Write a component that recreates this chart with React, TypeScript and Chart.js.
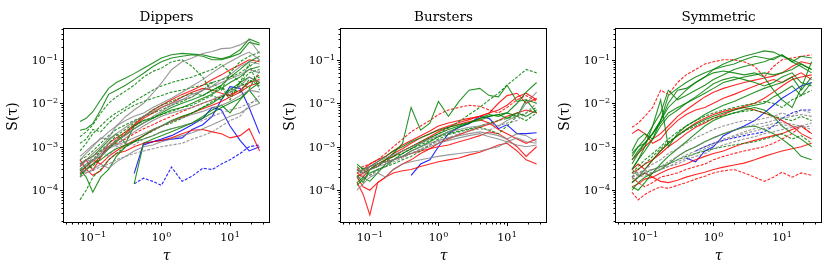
import React, { useEffect, useRef } from "react";
import { Chart, registerables } from "chart.js";
Chart.register(...registerables);

// ---------- shared axes data ----------
const TAU = [0.065, 0.08, 0.1, 0.13, 0.17, 0.22, 0.3, 0.4, 0.55, 0.75, 1.0, 1.4, 2.0, 2.8, 4.0, 5.5, 7.5, 10, 14, 19, 27];
const X_MIN = 0.038;
const X_MAX = 37;
const Y_MIN = 1.86e-5;
const Y_MAX = 0.51;
const X_MAJOR_EXP = [-1, 0, 1];
const Y_MAJOR_EXP = [-4, -3, -2, -1];
const TITLES = ["Dippers", "Bursters", "Symmetric"];
const X_LABEL = "τ";
const Y_LABEL = "S(τ)";

const N = null;

// ---------- Dippers ----------
const D_G1 = [3.8e-3, 4.5e-3, 6.4e-3, 1.2e-2, 2.2e-2, 3e-2, 3.8e-2, 4.8e-2, 6.4e-2, 8.4e-2, 0.11, 0.13, 0.14, 0.135, 0.13, 0.115, 0.105, 0.12, 0.17, 0.3, 0.24];
const D_G2 = [2.4e-3, 2.6e-3, 3.4e-3, 7e-3, 1.6e-2, 2e-2, 2.6e-2, 3.5e-2, 4.9e-2, 7e-2, 9e-2, 0.11, 0.12, 0.13, 0.12, 0.1, 0.1, 0.115, 0.14, 0.25, 0.22];
const D_G3 = [1.7e-3, 2.2e-3, 3.2e-3, 5.9e-3, 1e-2, 1.4e-2, 1.9e-2, 2.6e-2, 4e-2, 5.4e-2, 6.4e-2, 9e-2, 0.1, 7e-2, 4e-2, 1.7e-2, 2.4e-2, 1.2e-2, 3e-2, 2.2e-2, 5.4e-2];
const D_GY1 = [4e-4, 5e-4, 7e-4, 1e-3, 1.6e-3, 3e-3, 4.9e-3, 7e-3, 1e-2, 1.7e-2, 2.9e-2, 5.9e-2, 9e-2, 0.11, 0.14, 0.155, 0.18, 0.185, 0.22, 0.29, 0.14];
const D_GY2 = [3e-4, 4e-4, 5e-4, 7e-4, 1e-3, 1.4e-3, 1.8e-3, 2.6e-3, 3.5e-3, 5e-3, 6.5e-3, 9e-3, 1.2e-2, 1.6e-2, 2e-2, 2.4e-2, 3e-2, 3.6e-2, 4.5e-2, 6e-2, 5e-2];
const D_GY3 = [2.5e-4, 3e-4, 5e-4, 6e-4, 9e-4, 1.1e-3, 1.3e-3, 1.6e-3, 2e-3, 2.5e-3, 3e-3, 3.8e-3, 4.6e-3, 5.5e-3, 6.5e-3, 8e-3, 9e-3, 1.1e-2, 1.5e-2, 2e-2, 1.8e-2];
const D_GY4 = [4e-4, 3.5e-4, 6e-4, 8e-4, 6e-4, 1e-3, 1.2e-3, 1.1e-3, 1.5e-3, 1.8e-3, 2.2e-3, 2.6e-3, 3e-3, 3.5e-3, 4e-3, 5e-3, 6e-3, 7e-3, 8e-3, 1e-2, 1.2e-2];
const D_GY5 = [5e-4, 7e-4, 1e-3, 1.6e-3, 1.5e-3, 2e-3, 2.8e-3, 3.8e-3, 5e-3, 6.5e-3, 8e-3, 1e-2, 1.2e-2, 1.4e-2, 2e-2, 2.5e-2, 3.5e-2, 4.5e-2, 7e-2, 9e-2, 8e-2];
const D_GY6 = [2e-4, 2.5e-4, 3e-4, 4e-4, 3.2e-4, 4.5e-4, 6e-4, 8e-4, 1e-3, 1.1e-3, 1.3e-3, 1.5e-3, 1.8e-3, 2.1e-3, 2.6e-3, 3.2e-3, 4e-3, 5e-3, 6e-3, 8e-3, 1e-2];
const D_GY7 = [3e-4, 2.6e-4, 2.8e-4, 3.5e-4, 4e-4, 5e-4, 6e-4, 7e-4, 8e-4, 9e-4, 1e-3, 1.1e-3, 1.2e-3, 1.5e-3, 1.8e-3, 2.2e-3, 3e-3, 4e-3, 5e-3, 9e-3, 1.5e-2];
const D_GY8 = [6e-4, 8e-4, 1.1e-3, 1.5e-3, 2.2e-3, 3e-3, 4e-3, 5e-3, 6e-3, 8e-3, 1e-2, 1.3e-2, 1.8e-2, 2.5e-2, 3.5e-2, 5e-2, 7e-2, 9e-2, 0.12, 0.15, 0.1];
const D_GY9 = [3.5e-4, 5e-4, 4.5e-4, 7e-4, 1.2e-3, 1.1e-3, 1.6e-3, 2.2e-3, 3e-3, 4e-3, 5e-3, 6e-3, 7e-3, 8e-3, 1e-2, 1.2e-2, 1.5e-2, 1.8e-2, 2.5e-2, 4e-2, 3e-2];
const D_GD4 = [1.2e-3, 1.5e-3, 2.5e-3, 2.2e-3, 3.5e-3, 5e-3, 7e-3, 9e-3, 1.1e-2, 1.3e-2, 1.5e-2, 1.8e-2, 2e-2, 2.3e-2, 2.6e-2, 3e-2, 3.5e-2, 4e-2, 5e-2, 7e-2, 0.1];
const D_GD5 = [6e-5, 1e-4, 2e-4, 3e-4, 5e-4, 7e-4, 1e-3, 1.3e-3, 1.8e-3, 2.3e-3, 3e-3, 3.5e-3, 4.5e-3, 6e-3, 8e-3, 1.1e-2, 1.4e-2, 1.8e-2, 2.5e-2, 3e-2, 4e-2];
const D_GS6 = [3e-4, 2e-4, 9e-5, 2e-4, 3e-4, 6e-4, 1e-3, 1.3e-3, 1.8e-3, 2.5e-3, 3e-3, 4e-3, 5e-3, 6e-3, 8e-3, 1e-2, 1.4e-2, 2e-2, 3e-2, 4e-2, 3e-2];
const D_GS7 = [N, N, N, N, N, N, N, 1.4e-4, 1.2e-3, 1.5e-3, 1.8e-3, 2.2e-3, 2.8e-3, 3.5e-3, 5e-3, 7e-3, 9e-3, 6e-3, 1.2e-2, 2e-2, 3e-2];
const D_GD8 = [3e-4, 4e-4, 5e-4, 8e-4, 1.2e-3, 1.8e-3, 2.5e-3, 3.5e-3, 5e-3, 7e-3, 9e-3, 1.1e-2, 1.4e-2, 1.7e-2, 1.5e-2, 2e-2, 2.5e-2, 1.5e-2, 3e-2, 5e-2, 6e-2];
const D_GS9 = [2.2e-4, 3e-4, 4e-4, 5e-4, 7e-4, 9e-4, 1.1e-3, 1.3e-3, 1.5e-3, 1.8e-3, 2.2e-3, 2.6e-3, 3e-3, 3.5e-3, 4.5e-3, 6e-3, 8e-3, 1e-2, 1.3e-2, 2e-2, 1e-2];
const D_GD10 = [5e-4, 6e-4, 8e-4, 1.2e-3, 1.8e-3, 2.5e-3, 3.2e-3, 4e-3, 5e-3, 6e-3, 7e-3, 9e-3, 1.1e-2, 1.4e-2, 2e-2, 3e-2, 2e-2, 5e-2, 3e-2, 8e-2, 2e-2];
const D_GS11 = [4e-4, 5e-4, 6e-4, 9e-4, 1.4e-3, 2e-3, 1.2e-3, 3e-3, 4e-3, 4.5e-3, 5.5e-3, 7e-3, 8e-3, 1e-2, 1.3e-2, 1.6e-2, 2.2e-2, 3e-2, 4e-2, 6e-2, 7e-2];
const D_GD12 = [8e-4, 1.2e-3, 2e-3, 3e-3, 4.5e-3, 6e-3, 8e-3, 1.1e-2, 1.5e-2, 2e-2, 2.5e-2, 3e-2, 3.5e-2, 4e-2, 5e-2, 6e-2, 8e-2, 5e-2, 9e-2, 0.12, 0.15];
const D_GD13 = [2e-4, 3e-4, 3.5e-4, 6e-4, 9e-4, 1.5e-3, 2.2e-3, 3e-3, 4e-3, 4.8e-3, 5.5e-3, 6.5e-3, 8e-3, 9e-3, 1.2e-2, 1.5e-2, 1.2e-2, 2.2e-2, 1.8e-2, 3.5e-2, 2.5e-2];
const D_GS14 = [2.8e-4, 3.5e-4, 5e-4, 6e-4, 9e-4, 1.3e-3, 1.9e-3, 2.6e-3, 3.5e-3, 4.5e-3, 6e-3, 8e-3, 1e-2, 1.2e-2, 1.5e-2, 2e-2, 2.6e-2, 4e-2, 6e-2, 9e-2, 0.12];
const D_R1 = [3.5e-4, 4.9e-4, 2.9e-4, 5.6e-4, 1.2e-3, 1.6e-3, 2.2e-3, 3.2e-3, 4.9e-3, 7e-3, 9e-3, 1.2e-2, 1.6e-2, 2e-2, 2.6e-2, 3.5e-2, 4.5e-2, 5.9e-2, 7.7e-2, 0.1, 0.09];
const D_R2 = [2.4e-4, 3e-4, 4e-4, 6e-4, 1e-3, 1.4e-3, 2e-3, 3e-3, 4.5e-3, 6e-3, 8e-3, 1e-2, 1.4e-2, 1.8e-2, 2.2e-2, 2e-2, 1.7e-2, 1.5e-2, 2e-2, 3e-2, 3.5e-2];
const D_R3 = [4e-4, 5e-4, 6e-4, 8e-4, 1e-3, 1.2e-3, 1.5e-3, 2e-3, 2.6e-3, 3.2e-3, 4e-3, 5e-3, 6.5e-3, 8e-3, 1e-2, 1.2e-2, 1.4e-2, 1.6e-2, 2e-2, 3e-2, 4.5e-2];
const D_R4 = [5e-4, 3e-4, 2.2e-4, 2.8e-4, 5e-4, 7e-4, 8e-4, 1e-3, 1.2e-3, 1.3e-3, 1.4e-3, 1.6e-3, 2e-3, 2.4e-3, 2.5e-3, 2.2e-3, 2e-3, 1.6e-3, 1.8e-3, 2.6e-3, 8e-4];
const D_R5 = [2.5e-4, 3.5e-4, 5e-4, 4e-4, 6e-4, 8e-4, 1.1e-3, 1.4e-3, 1.8e-3, 2.4e-3, 3e-3, 3.8e-3, 4.8e-3, 6e-3, 7.5e-3, 9e-3, 1.1e-2, 1.4e-2, 1.8e-2, 2.5e-2, 3e-2];
const D_B1 = [N, N, N, N, N, N, N, 2.4e-4, 1.2e-3, 1.3e-3, 1.4e-3, 1.5e-3, 1.6e-3, 2.5e-3, 3.2e-3, 5e-3, 1.2e-2, 2.4e-2, 2.2e-2, 8e-3, 2e-3];
const D_B2 = [N, N, N, N, N, N, N, N, 1.1e-3, 1.3e-3, 1.5e-3, 1.8e-3, 2.4e-3, 3.2e-3, 4.5e-3, 8e-3, 7e-3, 3e-3, 1.4e-3, 8e-4, 1e-3];
const D_B3 = [N, N, N, N, N, N, N, 1.4e-4, 1.9e-4, 1.6e-4, 1.3e-4, 3.4e-4, 1.6e-4, 2.1e-4, 3.2e-4, 3e-4, 4e-4, 5e-4, 7e-4, 1e-3, 1.1e-3];

// ---------- Bursters ----------
const B_G1 = [2.2e-4, 1.5e-4, 3e-4, 3.5e-4, 5e-4, 7e-4, 1.2e-3, 8e-3, 2.4e-3, 3.5e-3, 1.1e-2, 5e-3, 1.1e-2, 2e-2, 2.2e-2, 1.5e-2, 1.4e-2, 2.6e-2, 1.1e-2, 1.2e-2, 6e-3];
const B_G2 = [3.5e-4, 2.5e-4, 3e-4, 4e-4, 4.5e-4, 6e-4, 8e-4, 1e-3, 1.3e-3, 1.6e-3, 2e-3, 2.7e-3, 3.8e-3, 5.5e-3, 8e-3, 1.2e-2, 1.7e-2, 2.6e-2, 4e-2, 6e-2, 5e-2];
const B_G3 = [4e-4, 3e-4, 3.5e-4, 4.5e-4, 6e-4, 8e-4, 1e-3, 1.3e-3, 1.6e-3, 2e-3, 2.4e-3, 2.8e-3, 3.2e-3, 3.6e-3, 4e-3, 5e-3, 5.5e-3, 6e-3, 1e-2, 1.8e-2, 3e-2];
const B_G4 = [1.5e-4, 2e-4, 1.6e-4, 2.5e-4, 4e-4, 5e-4, 6e-4, 8e-4, 1e-3, 1.3e-3, 1.7e-3, 2.2e-3, 2.8e-3, 3.5e-3, 4.5e-3, 5e-3, 5.5e-3, 4.5e-3, 6e-3, 5e-3, 7e-3];
const B_G5 = [2e-4, 3e-4, 2.2e-4, 3e-4, 3.5e-4, 4e-4, 5e-4, 6e-4, 8e-4, 1.1e-3, 1.5e-3, 1.9e-3, 2.2e-3, 2.5e-3, 2.8e-3, 2.4e-3, 2e-3, 3e-3, 5e-3, 6e-3, 8e-3];
const B_G6 = [1.3e-4, 1.8e-4, 2.5e-4, 3e-4, 3.5e-4, 5e-4, 7e-4, 9e-4, 1.2e-3, 1.6e-3, 2e-3, 2.5e-3, 3e-3, 3.5e-3, 4.5e-3, 5.5e-3, 5e-3, 6e-3, 5e-3, 1.2e-2, 1e-2];
const B_G7 = [2.8e-4, 3.2e-4, 3e-4, 4e-4, 5e-4, 6e-4, 7e-4, 9e-4, 1.1e-3, 1.4e-3, 1.7e-3, 2e-3, 2.3e-3, 2.6e-3, 3e-3, 3.5e-3, 4e-3, 4.5e-3, 5e-3, 4e-3, 6e-3];
const B_R1 = [3e-4, 3.5e-4, 4e-4, 5e-4, 7e-4, 1e-3, 1.5e-3, 2.2e-3, 3e-3, 4e-3, 5.5e-3, 7e-3, 8e-3, 9e-3, 8.5e-3, 7e-3, 6e-3, 8e-3, 1.2e-2, 1.5e-2, 1.1e-2];
const B_R2 = [2e-4, 2.5e-4, 3e-4, 4e-4, 5e-4, 7e-4, 9e-4, 1.2e-3, 1.6e-3, 2e-3, 2.5e-3, 3e-3, 3.6e-3, 4.2e-3, 5e-3, 6e-3, 7e-3, 9e-3, 1.4e-2, 1.7e-2, 1.2e-2];
const B_R3 = [1.5e-4, 8e-5, 2.7e-5, 1.5e-4, 2e-4, 3e-4, 4e-4, 5e-4, 7e-4, 9e-4, 1.2e-3, 1.5e-3, 1.9e-3, 2.3e-3, 2.8e-3, 3.3e-3, 4e-3, 5e-3, 6e-3, 7e-3, 6e-3];
const B_R4 = [2e-4, 1.2e-4, 1e-4, 1.5e-4, 2e-4, 2.5e-4, 2.8e-4, 3e-4, 3.5e-4, 4e-4, 4.5e-4, 5e-4, 5.5e-4, 6.5e-4, 7.5e-4, 9e-4, 1.1e-3, 1.2e-3, 8e-4, 5e-4, 4e-4];
const B_R5 = [2.5e-4, 2e-4, 3e-4, 3.5e-4, 5e-4, 6e-4, 8e-4, 1e-3, 1.3e-3, 1.7e-3, 2.2e-3, 2.8e-3, 3.3e-3, 3.8e-3, 4.2e-3, 3.5e-3, 2.5e-3, 2e-3, 1.5e-3, 1.2e-3, 1.5e-3];
const B_R6 = [3e-4, 2.5e-4, 3.5e-4, 4e-4, 4.5e-4, 5e-4, 6e-4, 7e-4, 8e-4, 9e-4, 1e-3, 1.1e-3, 1.3e-3, 1.5e-3, 1.8e-3, 2.2e-3, 2e-3, 1.5e-3, 1e-3, 6e-4, 1e-3];
const B_R7 = [2.5e-4, 3e-4, 4e-4, 5e-4, 6e-4, 8e-4, 1.1e-3, 1.4e-3, 1.8e-3, 2.3e-3, 3e-3, 3.5e-3, 4e-3, 4.5e-3, 5e-3, 6e-3, 1e-2, 1.5e-2, 1.7e-2, 1e-2, 1.3e-2];
const B_GY1 = [1e-4, 1.4e-4, 2e-4, 2.5e-4, 2e-4, 3e-4, 4e-4, 4.5e-4, 5e-4, 5.5e-4, 6e-4, 6.5e-4, 7e-4, 7.5e-4, 8e-4, 9e-4, 1e-3, 1.3e-3, 1.6e-3, 1.3e-3, 1.2e-3];
const B_GY2 = [2.5e-4, 3e-4, 3.5e-4, 4e-4, 4.5e-4, 5e-4, 6e-4, 8e-4, 1e-3, 1.2e-3, 1.4e-3, 1.6e-3, 1.8e-3, 2e-3, 2.2e-3, 2e-3, 1.8e-3, 1.5e-3, 2e-3, 1.8e-3, 1.3e-3];
const B_GY3 = [3e-4, 2.5e-4, 3.5e-4, 4.5e-4, 5.5e-4, 6.5e-4, 8e-4, 1e-3, 1.2e-3, 1.5e-3, 1.8e-3, 2.2e-3, 2.5e-3, 2.8e-3, 3e-3, 3.5e-3, 3e-3, 4e-3, 5e-3, 1e-2, 1.8e-2];
const B_GY4 = [2e-4, 1.8e-4, 2.2e-4, 2.8e-4, 3.5e-4, 4.5e-4, 5.5e-4, 7e-4, 9e-4, 1.1e-3, 1.3e-3, 1.6e-3, 2e-3, 2.3e-3, 2.6e-3, 2.4e-3, 3e-3, 3.5e-3, 4e-3, 6e-3, 1e-2];
const B_GY5 = [1.8e-4, 2.2e-4, 3e-4, 3.5e-4, 4e-4, 5e-4, 6e-4, 7e-4, 8.5e-4, 1e-3, 1.2e-3, 1.4e-3, 1.6e-3, 1.8e-3, 2e-3, 1.7e-3, 1.5e-3, 1.3e-3, 1.1e-3, 1e-3, 1.1e-3];
const B_B1 = [N, N, N, N, N, N, N, 2.2e-4, 4e-4, 5e-4, 1e-3, 2e-3, 2.8e-3, 3.4e-3, 5e-3, 4.5e-3, 2.6e-3, 3.2e-3, 2e-3, 2e-3, 2.1e-3];

// ---------- Symmetric ----------
const S_G1 = [4e-4, 7e-4, 1.2e-3, 2e-3, 4e-3, 8e-3, 1.3e-2, 2e-2, 3e-2, 4e-2, 6e-2, 8e-2, 0.1, 0.12, 0.14, 0.16, 0.15, 0.12, 0.1, 8e-2, 6e-2];
const S_G2 = [7e-4, 1e-3, 1.5e-3, 3e-3, 6e-3, 2e-2, 1.2e-2, 1.5e-2, 2e-2, 2.6e-2, 3.5e-2, 4.5e-2, 6e-2, 7e-2, 8e-2, 9e-2, 0.11, 0.13, 9e-2, 0.12, 0.11];
const S_G3 = [5e-4, 8e-4, 1.2e-3, 2e-3, 3.5e-3, 6e-3, 8e-3, 1e-2, 1.3e-2, 1.7e-2, 2.2e-2, 3e-2, 3.5e-2, 4e-2, 4.5e-2, 5e-2, 4.5e-2, 5e-2, 6e-2, 8e-2, 6e-2];
const S_G4 = [3e-4, 5e-4, 1e-3, 3e-3, 1.2e-2, 1e-3, 2e-3, 3e-3, 4e-3, 5.5e-3, 7e-3, 9e-3, 1.1e-2, 1.4e-2, 1.8e-2, 2.2e-2, 2.6e-2, 3e-2, 4e-2, 2e-2, 4e-2];
const S_G5 = [1.5e-4, 2e-4, 3e-4, 5e-4, 8e-4, 1.2e-3, 1.8e-3, 2.5e-3, 3.3e-3, 4.2e-3, 5e-3, 6e-3, 7e-3, 8e-3, 9e-3, 1e-2, 1.4e-2, 1.8e-2, 2.5e-2, 1.5e-2, 3e-2];
const S_G6 = [2e-4, 3e-4, 4e-4, 6e-4, 9e-4, 1.3e-3, 1.8e-3, 2.4e-3, 3e-3, 3.8e-3, 4.5e-3, 5.2e-3, 6e-3, 6.5e-3, 7e-3, 6e-3, 5e-3, 4.5e-3, 4e-3, 5e-3, 4e-3];
const S_G7 = [1e-4, 1.5e-4, 2e-4, 2.5e-4, 3e-4, 4e-4, 6e-4, 8e-4, 1e-3, 1.3e-3, 1.6e-3, 2e-3, 2.4e-3, 2.8e-3, 3e-3, 2.5e-3, 2e-3, 1.5e-3, 1e-3, 6e-4, 5e-4];
const S_G8 = [1.5e-4, 2e-4, 2.5e-4, 3e-4, 3.5e-4, 4e-4, 5e-4, 6e-4, 7e-4, 8e-4, 9e-4, 1e-3, 1.1e-3, 1.2e-3, 1.3e-3, 1.5e-3, 1.7e-3, 2e-3, 1.5e-3, 1.8e-3, 1.2e-3];
const S_G9 = [6e-4, 1e-3, 1.2e-3, 2e-3, 4e-3, 1e-2, 2e-2, 2.2e-2, 3e-2, 4e-2, 5e-2, 5.5e-2, 5e-2, 4.5e-2, 5e-2, 4e-2, 2e-2, 1.2e-2, 8e-3, 2.2e-2, 9e-2];
const S_G10 = [3e-4, 5e-4, 8e-4, 1.5e-3, 3e-3, 5e-3, 7e-3, 1e-2, 1.4e-2, 2e-2, 2.8e-2, 3.5e-2, 4e-2, 3.5e-2, 3e-2, 2.5e-2, 3e-2, 4e-2, 5e-2, 3e-2, 2.5e-2];
const S_G11 = [8e-4, 1.5e-3, 2e-3, 1.5e-3, 4e-3, 1.5e-2, 2.2e-2, 3e-2, 4e-2, 5e-2, 6e-2, 7e-2, 8e-2, 0.1, 0.12, 0.11, 0.1, 0.13, 0.09, 0.07, 0.05];
const S_G12 = [2.5e-4, 3.5e-4, 5e-4, 7e-4, 1e-3, 1.5e-3, 2.2e-3, 3e-3, 4e-3, 5e-3, 6e-3, 7e-3, 8e-3, 9e-3, 1e-2, 1.1e-2, 1e-2, 8e-3, 1.2e-2, 1.5e-2, 2e-2];
const S_G13 = [1.2e-4, 1e-4, 1.5e-4, 2.5e-4, 4e-4, 6e-4, 9e-4, 1.3e-3, 2e-3, 3e-3, 4e-3, 5e-3, 6e-3, 7e-3, 8e-3, 7e-3, 5e-3, 3e-3, 2e-3, 1.5e-3, 1e-3];
const S_R1 = [2.8e-3, 3.5e-3, 5e-3, 8e-3, 2e-2, 1.6e-2, 3e-2, 4.5e-2, 6e-2, 8e-2, 9e-2, 0.1, 0.1, 9e-2, 7e-2, 4e-2, 7e-2, 0.1, 0.11, 0.12, 0.13];
const S_R2 = [5e-4, 7e-4, 1e-3, 1.5e-3, 2e-3, 3e-3, 5e-3, 7e-3, 1e-2, 1.4e-2, 1.8e-2, 2.2e-2, 2.6e-2, 3e-2, 3.4e-2, 3.8e-2, 4.2e-2, 5e-2, 7e-2, 9e-2, 8e-2];
const S_R3 = [2e-3, 2.5e-3, 2e-3, 1.2e-3, 1.5e-3, 2.5e-3, 4e-3, 5.5e-3, 7e-3, 8e-3, 1e-2, 1.3e-2, 1.6e-2, 2e-2, 2.5e-2, 3e-2, 3.5e-2, 3e-2, 4e-2, 5e-2, 3.5e-2];
const S_R4 = [2.5e-4, 3e-4, 4e-4, 5e-4, 7e-4, 1e-3, 1.4e-3, 2e-3, 2.8e-3, 3.5e-3, 4.5e-3, 5.5e-3, 7e-3, 8.5e-3, 1e-2, 1.3e-2, 1.8e-2, 2.5e-2, 3.5e-2, 4e-2, 4.5e-2];
const S_R5 = [1.5e-4, 2e-4, 2.5e-4, 2e-4, 2.5e-4, 3e-4, 3.5e-4, 4e-4, 5e-4, 6e-4, 7e-4, 8e-4, 1e-3, 1.2e-3, 1.4e-3, 1.6e-3, 1.8e-3, 2e-3, 2.5e-3, 3e-3, 2e-3];
const S_R6 = [1.2e-4, 1.4e-4, 1.8e-4, 2e-4, 1.6e-4, 1.5e-4, 1.7e-4, 2e-4, 2.3e-4, 2.6e-4, 3e-4, 3.4e-4, 3.8e-4, 4.2e-4, 5e-4, 6e-4, 7e-4, 8e-4, 9e-4, 1e-3, 1.2e-3];
const S_R7 = [9e-5, 6e-5, 8e-5, 1e-4, 1.2e-4, 1.1e-4, 1.3e-4, 1.5e-4, 1.8e-4, 2.1e-4, 2.5e-4, 2.8e-4, 3e-4, 2.5e-4, 2e-4, 1.6e-4, 2e-4, 2.6e-4, 2e-4, 2.5e-4, 2.2e-4];
const S_R8 = [2e-4, 1.5e-4, 1.2e-4, 1.5e-4, 2e-4, 2.2e-4, 2.5e-4, 3e-4, 3.5e-4, 4e-4, 5e-4, 6e-4, 7e-4, 8e-4, 9e-4, 1e-3, 1.2e-3, 1.5e-3, 2e-3, 3e-3, 2e-3];
const S_R9 = [3e-4, 4e-4, 3e-4, 5e-4, 8e-4, 1.2e-3, 1.8e-3, 2.5e-3, 3.5e-3, 4.5e-3, 5.5e-3, 6.5e-3, 7.5e-3, 8e-3, 7e-3, 6e-3, 5e-3, 4e-3, 3e-3, 2e-3, 1.5e-3];
const S_GY1 = [2.5e-4, 2.3e-4, 2.6e-4, 3e-4, 3.5e-4, 4.5e-4, 6e-4, 8e-4, 1e-3, 1.3e-3, 1.6e-3, 2e-3, 2.4e-3, 2.8e-3, 3.2e-3, 3.5e-3, 4e-3, 4.5e-3, 5e-3, 5.5e-3, 5e-3];
const S_GY2 = [2e-4, 2.5e-4, 2.8e-4, 3e-4, 3.3e-4, 4e-4, 5e-4, 6.5e-4, 8e-4, 1e-3, 1.2e-3, 1.5e-3, 1.8e-3, 2.2e-3, 2.6e-3, 3e-3, 3.4e-3, 3.6e-3, 3.3e-3, 3e-3, 3.5e-3];
const S_GY3 = [3e-4, 2.5e-4, 3e-4, 4e-4, 5e-4, 7e-4, 9e-4, 1.2e-3, 1.6e-3, 2e-3, 2.5e-3, 3e-3, 3.5e-3, 4e-3, 4e-3, 4.5e-3, 5e-3, 6e-3, 5e-3, 7e-3, 6e-3];
const S_GY4 = [2e-4, 2.2e-4, 2.4e-4, 2.6e-4, 3e-4, 3.5e-4, 4.5e-4, 5.5e-4, 7e-4, 9e-4, 1.1e-3, 1.4e-3, 1.7e-3, 2e-3, 2.3e-3, 2.6e-3, 3e-3, 3.2e-3, 3e-3, 2.8e-3, 3e-3];
const S_GY5 = [1.8e-4, 2e-4, 2.2e-4, 2.5e-4, 3e-4, 3.5e-4, 4e-4, 5e-4, 6e-4, 7e-4, 9e-4, 1.1e-3, 1.3e-3, 1.5e-3, 1.7e-3, 2e-3, 2.2e-3, 2.5e-3, 2.8e-3, 3e-3, 2.5e-3];
const S_B1 = [N, N, N, N, N, N, N, 5.5e-4, 4.5e-4, 8e-4, 1e-3, 1.8e-3, 2.4e-3, 3e-3, 4e-3, 6e-3, 9e-3, 1.3e-2, 1.8e-2, 2.5e-2, 3e-2];
const S_B2 = [N, N, N, N, N, N, N, N, 8e-4, 1e-3, 1.2e-3, 1.4e-3, 1.6e-3, 1.8e-3, 2e-3, 2.2e-3, 3e-3, 4.5e-3, 6e-3, 7e-3, 7e-3];

// ---------- styles ----------
const GREEN = "rgba(0,128,0,0.85)";
const RED = "rgba(255,0,0,0.85)";
const GRAY = "rgba(128,128,128,0.8)";
const BLUE = "rgba(0,0,255,0.85)";

type Series = { values: (number | null)[]; color: string; dash: boolean };
const s = (values: (number | null)[], color: string, dash = false): Series => ({ values, color, dash });

const PANELS: Series[][] = [
  [
    s(D_GY1, GRAY), s(D_GY2, GRAY), s(D_GY3, GRAY), s(D_GY4, GRAY, true), s(D_GY5, GRAY),
    s(D_GY6, GRAY), s(D_GY7, GRAY, true), s(D_GY8, GRAY), s(D_GY9, GRAY),
    s(D_G1, GREEN), s(D_G2, GREEN), s(D_G3, GREEN, true), s(D_GD4, GREEN, true), s(D_GD5, GREEN, true),
    s(D_GS6, GREEN), s(D_GS7, GREEN), s(D_GD8, GREEN, true), s(D_GS9, GREEN), s(D_GD10, GREEN, true),
    s(D_GS11, GREEN), s(D_GD12, GREEN, true), s(D_GD13, GREEN, true), s(D_GS14, GREEN),
    s(D_R1, RED), s(D_R2, RED), s(D_R3, RED, true), s(D_R4, RED), s(D_R5, RED),
    s(D_B1, BLUE), s(D_B2, BLUE), s(D_B3, BLUE, true),
  ],
  [
    s(B_GY1, GRAY), s(B_GY2, GRAY), s(B_GY3, GRAY), s(B_GY4, GRAY, true), s(B_GY5, GRAY),
    s(B_G1, GREEN), s(B_G2, GREEN, true), s(B_G3, GREEN), s(B_G4, GREEN), s(B_G5, GREEN, true),
    s(B_G6, GREEN), s(B_G7, GREEN, true),
    s(B_R1, RED, true), s(B_R2, RED), s(B_R3, RED), s(B_R4, RED), s(B_R5, RED), s(B_R6, RED), s(B_R7, RED),
    s(B_B1, BLUE),
  ],
  [
    s(S_GY1, GRAY, true), s(S_GY2, GRAY, true), s(S_GY3, GRAY, true), s(S_GY4, GRAY, true), s(S_GY5, GRAY, true),
    s(S_G1, GREEN), s(S_G2, GREEN), s(S_G3, GREEN), s(S_G4, GREEN), s(S_G5, GREEN),
    s(S_G6, GREEN, true), s(S_G7, GREEN), s(S_G8, GREEN, true), s(S_G9, GREEN),
    s(S_G10, GREEN), s(S_G11, GREEN), s(S_G12, GREEN, true), s(S_G13, GREEN),
    s(S_R1, RED, true), s(S_R2, RED), s(S_R3, RED), s(S_R4, RED), s(S_R5, RED), s(S_R6, RED),
    s(S_R7, RED, true), s(S_R8, RED, true), s(S_R9, RED),
    s(S_B1, BLUE), s(S_B2, BLUE, true),
  ],
];

// ---------- layout ----------
const CANVAS_W = 275;
const CANVAS_H = 271;
const PANEL_LEFTS = [0, 277, 552];
const PAD = { left: 64, right: 6, top: 29, bottom: 49 };
const FONT = '"DejaVu Serif", "Liberation Serif", serif';

function drawPow(ctx: CanvasRenderingContext2D, exp: number, x: number, baseline: number, align: "center" | "right") {
  const base = "10";
  const e = exp < 0 ? "\u2212" + Math.abs(exp) : String(exp);
  ctx.font = `11px ${FONT}`;
  const wb = ctx.measureText(base).width;
  ctx.font = `8px ${FONT}`;
  const we = ctx.measureText(e).width;
  const total = wb + 0.5 + we;
  const left = align === "center" ? x - total / 2 : x - total;
  ctx.textAlign = "left";
  ctx.textBaseline = "alphabetic";
  ctx.font = `11px ${FONT}`;
  ctx.fillText(base, left, baseline);
  ctx.font = `8px ${FONT}`;
  ctx.fillText(e, left + wb + 0.5, baseline - 4);
}

const mplAxes = {
  id: "mplAxes",
  afterDraw(chart: any, _args: any, opts: any) {
    const { ctx, chartArea: a, scales } = chart;
    const xs = scales.x;
    const ys = scales.y;
    ctx.save();
    ctx.strokeStyle = "#000";
    ctx.fillStyle = "#000";
    ctx.lineWidth = 1;
    ctx.strokeRect(Math.round(a.left) - 0.5, Math.round(a.top) - 0.5, Math.round(a.right - a.left) + 1, Math.round(a.bottom - a.top) + 1);
    ctx.beginPath();
    for (let n = -3; n <= 2; n++) {
      for (let k = 1; k <= 9; k++) {
        const v = k * Math.pow(10, n);
        if (v < X_MIN || v > X_MAX) continue;
        const px = Math.round(xs.getPixelForValue(v)) + 0.5;
        const len = k === 1 ? 3.5 : 2;
        ctx.moveTo(px, a.bottom);
        ctx.lineTo(px, a.bottom + len + 0.5);
      }
    }
    for (let n = -6; n <= 0; n++) {
      for (let k = 1; k <= 9; k++) {
        const v = k * Math.pow(10, n);
        if (v < Y_MIN || v > Y_MAX) continue;
        const py = Math.round(ys.getPixelForValue(v)) + 0.5;
        const len = k === 1 ? 3.5 : 2;
        ctx.moveTo(a.left, py);
        ctx.lineTo(a.left - len - 0.5, py);
      }
    }
    ctx.stroke();
    X_MAJOR_EXP.forEach((e) => {
      const px = xs.getPixelForValue(Math.pow(10, e));
      drawPow(ctx, e, px, a.bottom + 19, "center");
    });
    Y_MAJOR_EXP.forEach((e) => {
      const py = ys.getPixelForValue(Math.pow(10, e));
      drawPow(ctx, e, a.left - 6, py + 4, "right");
    });
    const cx = (a.left + a.right) / 2;
    ctx.textAlign = "center";
    ctx.textBaseline = "alphabetic";
    ctx.font = `13.5px ${FONT}`;
    ctx.fillText(opts.title, cx, 21);
    ctx.font = `italic 14px ${FONT}`;
    ctx.fillText(X_LABEL, cx, 260);
    ctx.save();
    ctx.translate(13, (a.top + a.bottom) / 2 - 9);
    ctx.rotate(-Math.PI / 2);
    ctx.textBaseline = "middle";
    ctx.font = `14px ${FONT}`;
    ctx.fillText(Y_LABEL, 0, 0);
    ctx.restore();
    ctx.restore();
  },
};

function Panel({ series, title, left }: { series: Series[]; title: string; left: number }) {
  const ref = useRef<HTMLCanvasElement | null>(null);
  useEffect(() => {
    if (!ref.current) return;
    const datasets = series.map((sr) => ({
      data: TAU.map((t, i) => ({ x: t, y: sr.values[i] })),
      borderColor: sr.color,
      backgroundColor: sr.color,
      borderWidth: 1.1,
      borderDash: sr.dash ? [3, 1.5] : [],
      pointRadius: 0,
      fill: false,
      tension: 0,
      spanGaps: false,
    }));
    const chart = new Chart(ref.current, {
      type: "line",
      data: { datasets } as any,
      options: {
        responsive: false,
        animation: false,
        events: [],
        layout: { padding: PAD },
        plugins: {
          legend: { display: false },
          tooltip: { enabled: false },
          mplAxes: { title },
        } as any,
        scales: {
          x: { type: "logarithmic", min: X_MIN, max: X_MAX, display: false },
          y: { type: "logarithmic", min: Y_MIN, max: Y_MAX, display: false },
        },
      },
      plugins: [mplAxes as any],
    });
    return () => chart.destroy();
  }, [series, title]);
  return (
    <canvas
      ref={ref}
      width={CANVAS_W}
      height={CANVAS_H}
      style={{ position: "absolute", left, top: 0, width: CANVAS_W, height: CANVAS_H }}
    />
  );
}

export default function App() {
  return (
    <div style={{ position: "fixed", left: 0, top: 0, width: 831, height: 271, background: "#fff" }}>
      {PANELS.map((p, i) => (
        <Panel key={i} series={p} title={TITLES[i]} left={PANEL_LEFTS[i]} />
      ))}
    </div>
  );
}
